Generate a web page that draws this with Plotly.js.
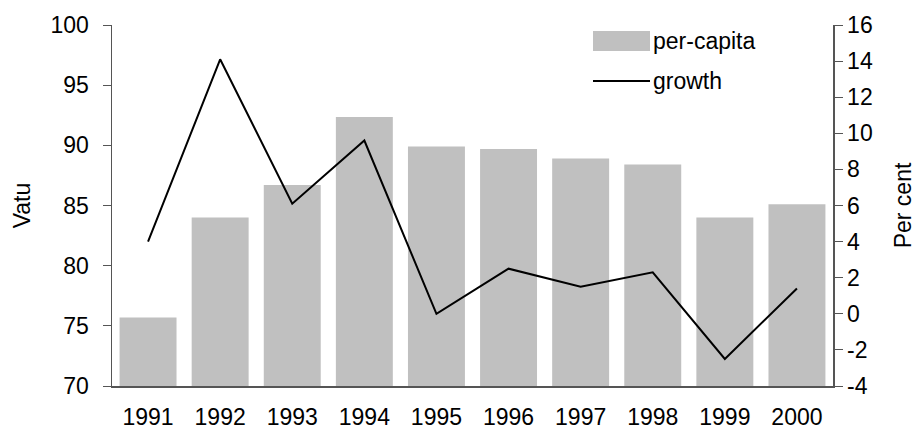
<!DOCTYPE html>
<html>
<head>
<meta charset="utf-8">
<script src="https://cdn.plot.ly/plotly-3.0.1.min.js"></script>
<style>html,body{margin:0;padding:0;background:#fff}#chart{width:916px;height:432px}</style>
</head>
<body>
<div id="chart"></div>
<script>
const years = ['1991','1992','1993','1994','1995','1996','1997','1998','1999','2000'];
const perCapita = [75.7, 84.0, 86.7, 92.35, 89.9, 89.7, 88.9, 88.4, 84.0, 85.1];
const growth = [4.0, 14.1, 6.1, 9.6, 0.0, 2.5, 1.5, 2.3, -2.5, 1.4];
const leftTicks = [70, 75, 80, 85, 90, 95, 100];
const rightTicks = [-4, -2, 0, 2, 4, 6, 8, 10, 12, 14, 16];
const rightTickText = ['-4', '-2', '0', '2', '4', '6', '8', '10', '12', '14', '16'];

const FONT = 'Liberation Sans, Arial, Helvetica, sans-serif';
const FS = 23;
const ML = 112, MR = 83, MT = 25, MB = 46;
const W = 916, H = 432;
const PW = W - ML - MR, PH = H - MT - MB;
const px = x => (x - ML) / PW;
const py = y => 1 - (y - MT) / PH;

const traces = [
  {type: 'bar', x: years, y: perCapita, name: 'per-capita', marker: {color: '#c0c0c0'}, yaxis: 'y', showlegend: false},
  {type: 'scatter', mode: 'lines', x: years, y: growth, name: 'growth', line: {color: '#000', width: 2}, yaxis: 'y2', showlegend: false}
];

const layout = {
  width: W, height: H,
  margin: {l: ML, r: MR, t: MT, b: MB},
  paper_bgcolor: '#fff', plot_bgcolor: '#fff',
  font: {family: FONT, size: FS, color: '#000'},
  bargap: 0.21,
  xaxis: {type: 'category', showline: true, linecolor: '#555', linewidth: 1.5, ticks: '', showgrid: false, zeroline: false,
          tickfont: {size: FS}, ticklabelstandoff: 10, automargin: false},
  yaxis: {range: [70, 100], tickvals: leftTicks, ticks: 'outside', ticklen: 8, tickcolor: '#555', showline: true, linecolor: '#555', linewidth: 1.5, showgrid: false, zeroline: false,
          ticklabelstandoff: 9, automargin: false,
          title: {text: 'Vatu', standoff: 13, font: {size: FS}}},
  yaxis2: {range: [-4, 16], tickvals: rightTicks, ticktext: rightTickText, overlaying: 'y', side: 'right', ticks: 'outside', ticklen: 8, tickcolor: '#555', showline: true, linecolor: '#555', linewidth: 1.5, showgrid: false, zeroline: false,
           automargin: false,
           title: {text: 'Per cent', standoff: 27, font: {size: FS}}},
  shapes: [
    {type: 'rect', xref: 'paper', yref: 'paper', x0: px(593), x1: px(650), y0: py(51), y1: py(31), fillcolor: '#c0c0c0', line: {width: 0}},
    {type: 'line', xref: 'paper', yref: 'paper', x0: px(593), x1: px(650), y0: py(81), y1: py(81), line: {color: '#000', width: 2}}
  ],
  annotations: [
    {xref: 'paper', yref: 'paper', x: px(651), y: py(41), text: 'per-capita', showarrow: false, xanchor: 'left', yanchor: 'middle', font: {size: FS}},
    {xref: 'paper', yref: 'paper', x: px(651), y: py(81), text: 'growth', showarrow: false, xanchor: 'left', yanchor: 'middle', font: {size: FS}}
  ]
};

Plotly.newPlot('chart', traces, layout, {displayModeBar: false, staticPlot: true});
</script>
</body>
</html>
